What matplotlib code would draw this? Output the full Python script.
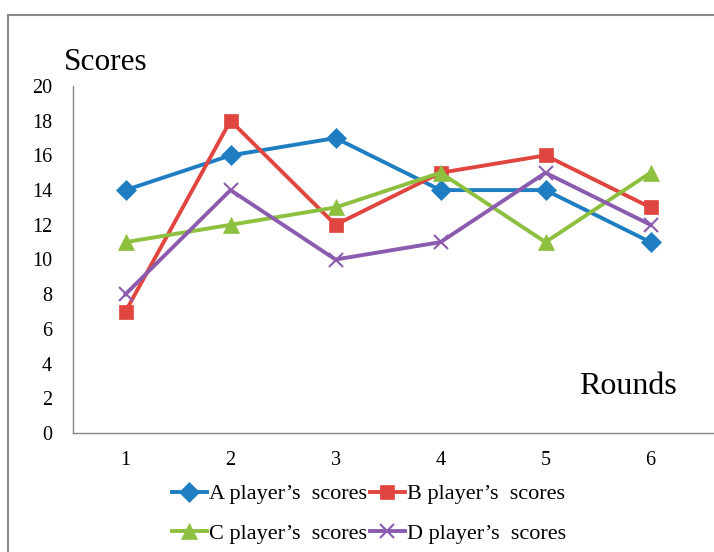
import matplotlib.pyplot as plt
from matplotlib.patches import Rectangle

############################################
#   Data
############################################
rounds   = [1, 2, 3, 4, 5, 6]
a_scores = [14, 16, 17, 14, 14, 11]
b_scores = [7, 18, 12, 15, 16, 13]
c_scores = [11, 12, 13, 15, 11, 15]
d_scores = [8, 14, 10, 11, 15, 12]
labels   = ['A player\u2019s  scores', 'B player\u2019s  scores',
            'C player\u2019s  scores', 'D player\u2019s  scores']
y_ticks  = list(range(0, 21, 2))

############################################
#   Figure setup
############################################
plt.rcParams['font.family'] = ['Liberation Serif', 'DejaVu Serif']

W, H = 714, 552
fig = plt.figure(figsize=(W / 100, H / 100), dpi=100, facecolor='white')

# outer frame of the chart area (runs off the right/bottom edge)
fig.patches.append(Rectangle((8 / W, -0.1), 1.2, (H - 15) / H + 0.1,
                             transform=fig.transFigure, fill=False,
                             edgecolor='#8a8a8a', lw=1.5, zorder=0))

ax = fig.add_axes([73 / W, 1 - 433 / H, 1 - 73 / W, (433 - 86) / H])
ax.set_xlim(0.5, 0.5 + (W - 73) / 105)
ax.set_ylim(0, 20)

for s in ['top', 'right']:
    ax.spines[s].set_visible(False)
for s in ['left', 'bottom']:
    ax.spines[s].set_color('#868686')
    ax.spines[s].set_linewidth(1.0)

ax.set_xticks(rounds)
ax.set_yticks(y_ticks)
ax.tick_params(axis='both', length=0, labelsize=14.5)
ax.tick_params(axis='y', pad=15)
ax.tick_params(axis='x', pad=13)

series = [
    (a_scores, '#1f7ec2', 'D', 10),
    (b_scores, '#e0463f', 's', 10.5),
    (c_scores, '#8dc03f', '^', 11.5),
    (d_scores, '#8a5baf', 'x', 10.5),
]
handles = []
for (vals, col, mk, ms), lab in zip(series, labels):
    h, = ax.plot(rounds, vals, color=col, lw=2.8, marker=mk, markersize=ms,
                 markerfacecolor=col, markeredgecolor=col,
                 markeredgewidth=1.5 if mk == 'x' else 0.5,
                 label=lab, clip_on=False)
    handles.append(h)

fig.text(64 / W, 1 - 63 / H, 'Scores', fontsize=22.5, va='center', ha='left')
fig.text(677 / W, 1 - 387 / H, 'Rounds', fontsize=23, va='center', ha='right')

# legend fills column-wise, so reorder to get A B / C D rows
order = [0, 2, 1, 3]
fig.legend([handles[i] for i in order], [labels[i] for i in order],
           loc='upper center', bbox_to_anchor=(369 / W, 1 - 475 / H), ncol=2,
           frameon=False, fontsize=16, handlelength=1.6, handletextpad=0.1,
           columnspacing=0.1, labelspacing=0.85, borderaxespad=0)

fig.savefig('out.png', dpi=100)
